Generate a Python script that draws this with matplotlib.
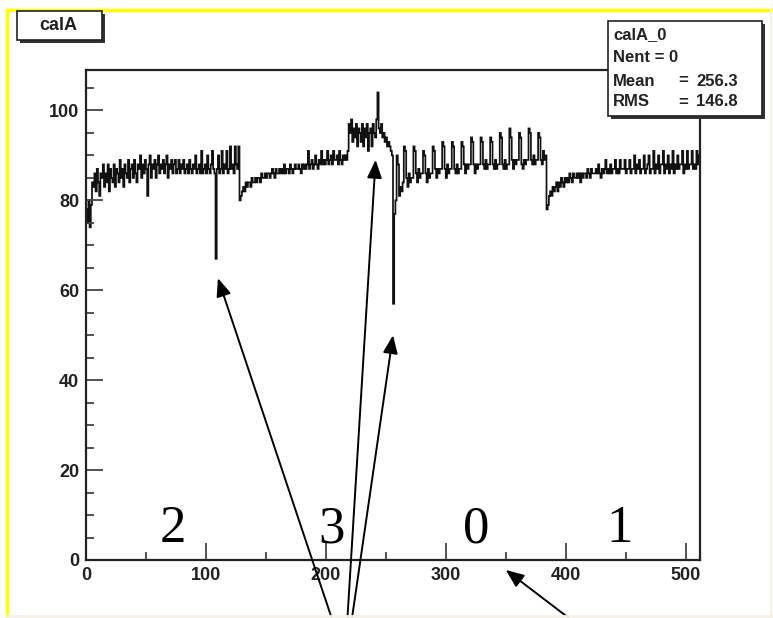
import matplotlib
matplotlib.use("Agg")
import matplotlib.pyplot as plt
from matplotlib.patches import Rectangle
from matplotlib.lines import Line2D
import numpy as np

# ---------------- data (bin contents, 512 bins, 4 segments of 128) ----------------
seg_2 = [78, 75, 80, 74, 79, 84, 83, 86,
         82, 87, 84, 81, 86, 85, 88, 83,
         86, 84, 88, 82, 87, 85, 84, 88,
         83, 87, 86, 84, 89, 85, 87, 83,
         88, 86, 85, 89, 84, 87, 88, 85,
         89, 86, 84, 88, 87, 90, 85, 88,
         86, 89, 87, 81, 88, 90, 85, 88,
         87, 89, 85, 88, 90, 86, 88, 87,
         89, 86, 88, 90, 85, 88, 87, 89,
         86, 88, 89, 86, 87, 89, 86, 88,
         87, 89, 86, 87, 88, 86, 89, 87,
         86, 88, 87, 90, 86, 87, 88, 86,
         91, 86, 87, 88, 86, 90, 87, 86,
         88, 91, 87, 86, 67, 87, 90, 86,
         87, 91, 86, 88, 87, 91, 86, 87,
         92, 87, 88, 86, 92, 88, 87, 92]
seg_3 = [80, 81, 82, 83, 82, 84, 83, 84,
         84, 83, 85, 84, 84, 85, 84, 85,
         85, 84, 86, 85, 85, 86, 85, 86,
         86, 85, 86, 87, 86, 85, 87, 86,
         86, 87, 86, 87, 86, 88, 86, 87,
         87, 86, 88, 87, 86, 87, 88, 87,
         87, 88, 87, 86, 88, 87, 88, 87,
         88, 91, 87, 88, 89, 87, 88, 90,
         88, 87, 89, 88, 91, 88, 89, 88,
         89, 91, 88, 89, 90, 88, 91, 89,
         89, 90, 88, 91, 89, 88, 90, 89,
         90, 89, 91, 97, 95, 98, 93, 96,
         94, 97, 92, 96, 95, 93, 97, 92,
         96, 94, 97, 91, 95, 96, 92, 97,
         95, 94, 98, 104, 96, 95, 97, 94,
         95, 93, 94, 92, 93, 92, 91, 90]
seg_0 = [57, 77, 80, 90, 88, 81, 83, 82,
         84, 92, 91, 85, 83, 86, 84, 85,
         85, 92, 91, 86, 84, 87, 85, 86,
         86, 91, 90, 86, 84, 87, 85, 86,
         86, 92, 91, 87, 85, 87, 86, 87,
         87, 93, 92, 87, 85, 88, 86, 87,
         87, 93, 92, 87, 86, 88, 86, 87,
         87, 93, 92, 88, 86, 88, 87, 88,
         88, 94, 93, 88, 86, 88, 87, 88,
         88, 94, 93, 88, 87, 89, 87, 88,
         88, 94, 93, 88, 87, 89, 87, 88,
         88, 95, 94, 88, 87, 89, 87, 88,
         88, 96, 94, 89, 87, 89, 88, 89,
         89, 95, 94, 88, 87, 89, 88, 89,
         89, 96, 95, 89, 88, 90, 88, 89,
         89, 95, 94, 89, 88, 91, 89, 90]
seg_1 = [78, 79, 81, 82, 81, 83, 82, 83,
         84, 82, 84, 83, 85, 84, 83, 85,
         84, 85, 84, 86, 85, 84, 86, 85,
         85, 86, 85, 86, 84, 86, 85, 86,
         86, 85, 87, 86, 85, 87, 86, 86,
         86, 87, 86, 88, 86, 85, 87, 86,
         87, 89, 86, 87, 86, 88, 86, 87,
         87, 89, 86, 87, 86, 89, 87, 87,
         87, 89, 86, 87, 87, 89, 86, 87,
         87, 90, 86, 88, 87, 89, 86, 87,
         87, 90, 86, 87, 88, 90, 86, 87,
         87, 91, 86, 88, 87, 90, 86, 88,
         88, 91, 86, 88, 87, 90, 86, 88,
         87, 91, 86, 88, 87, 90, 87, 88,
         88, 91, 86, 88, 87, 91, 87, 88,
         88, 91, 87, 88, 87, 91, 88, 90]

segment_labels = ["2", "3", "0", "1"]
segment_label_x = [72, 205, 325, 445]          # data x of big labels
x_ticks = [0, 100, 200, 300, 400, 500]
y_ticks = [0, 20, 40, 60, 80, 100]
hist_title = "calA"
stats_lines = [("calA_0", ""), ("Nent = 0", ""), ("Mean", "256.3"), ("RMS", "146.8")]
# arrow targets in data coords, arrow tails in figure pixels (from top-left)
arrow_tips = [(110, 62.7), (241.5, 89.0), (256, 50.0), (350, -2.2)]
arrow_tails_px = [(334, 625), (347, 625), (351, 625), (578, 625)]

values = np.array(seg_2 + seg_3 + seg_0 + seg_1, dtype=float)
edges = np.arange(len(values) + 1)

W, H = 773, 618
fig = plt.figure(figsize=(W / 100, H / 100), dpi=100)
fig.patch.set_facecolor("white")

def fx(px):
    return px / W

def fy(py):
    return 1 - py / H

ax_l, ax_r, ax_t, ax_b = 86, 700, 70, 560
ax = fig.add_axes([fx(ax_l), fy(ax_b), (ax_r - ax_l) / W, (ax_b - ax_t) / H])
ax.stairs(values, edges, color="#111111", linewidth=1.25, baseline=None)
ax.set_xlim(0, 512)
ax.set_ylim(0, 109)

for s in ax.spines.values():
    s.set_color("#222222")
    s.set_linewidth(1.6)

tick_font = dict(family=["Liberation Sans Narrow", "Liberation Sans"], size=13, weight="bold")
ax.set_xticks(x_ticks)
ax.set_xticks([50, 150, 250, 350, 450], minor=True)
ax.set_yticks(y_ticks)
ax.set_yticks([v for v in range(0, 110, 5) if v % 20 != 0], minor=True)
ax.set_xticklabels([str(v) for v in x_ticks], fontdict=tick_font, color="#222222")
ax.set_yticklabels([str(v) for v in y_ticks], fontdict=tick_font, color="#222222")
ax.tick_params(which="major", direction="in", length=12, width=1.3, color="#444444", pad=5)
ax.tick_params(which="minor", direction="in", length=6, width=1.3, color="#444444")
ax.tick_params(axis="x", which="both", top=False)
ax.tick_params(axis="y", which="both", right=False)

# big segment labels
for lab, xv in zip(segment_labels, segment_label_x):
    ax.text(xv, 4, lab, family="Liberation Serif", fontsize=38, ha="center",
            va="baseline", color="black")

# arrows
for (tx, ty), (sx, sy) in zip(arrow_tips, arrow_tails_px):
    ax.annotate("", xy=(tx, ty), xycoords="data",
                xytext=(sx, H - sy), textcoords="figure pixels",
                annotation_clip=False,
                arrowprops=dict(arrowstyle="-|>,head_length=1.1,head_width=0.45",
                                color="black", lw=1.4, shrinkA=0, shrinkB=0))

# yellow canvas border (top & left) + faint bottom/right
fig.add_artist(Line2D([fx(7), 1.0], [fy(10), fy(10)], transform=fig.transFigure,
                      color="#ffff00", lw=2.5))
fig.add_artist(Line2D([fx(7), fx(7)], [fy(10), 0], transform=fig.transFigure,
                      color="#ffff00", lw=2.5))
fig.add_artist(Line2D([fx(7), 1.0], [fy(616), fy(616)], transform=fig.transFigure,
                      color="#f4f2e4", lw=2))
fig.add_artist(Line2D([fx(771), fx(771)], [fy(10), 0], transform=fig.transFigure,
                      color="#f4f2e4", lw=1.5))

def shadow_box(x0, y0, x1, y1):
    sh = Rectangle((fx(x0 + 3), fy(y1 + 3)), (x1 - x0) / W, (y1 - y0) / H,
                   transform=fig.transFigure, facecolor="#333333", edgecolor="none", zorder=5)
    bx = Rectangle((fx(x0), fy(y1)), (x1 - x0) / W, (y1 - y0) / H,
                   transform=fig.transFigure, facecolor="white", edgecolor="#222222",
                   lw=1.2, zorder=6)
    fig.add_artist(sh)
    fig.add_artist(bx)

# title box
shadow_box(17, 11, 102, 40)
fig.text(fx(58), fy(26), hist_title, ha="center", va="center", zorder=7,
         family=["Liberation Sans Narrow", "Liberation Sans"], size=13, weight="bold",
         color="#222222")

# stats box
shadow_box(608, 21, 762, 116)
stat_font = dict(family=["Liberation Sans Narrow", "Liberation Sans"], size=12,
                 weight="bold", color="#222222", zorder=7)
line_y = [35, 58, 81, 102]
for (left, right), yy in zip(stats_lines, line_y):
    fig.text(fx(613), fy(yy), left, ha="left", va="center", **stat_font)
    if right:
        fig.text(fx(683), fy(yy), "=", ha="center", va="center", **stat_font)
        fig.text(fx(738), fy(yy), right, ha="right", va="center", **stat_font)

fig.savefig("out.png", dpi=100, facecolor="white")
